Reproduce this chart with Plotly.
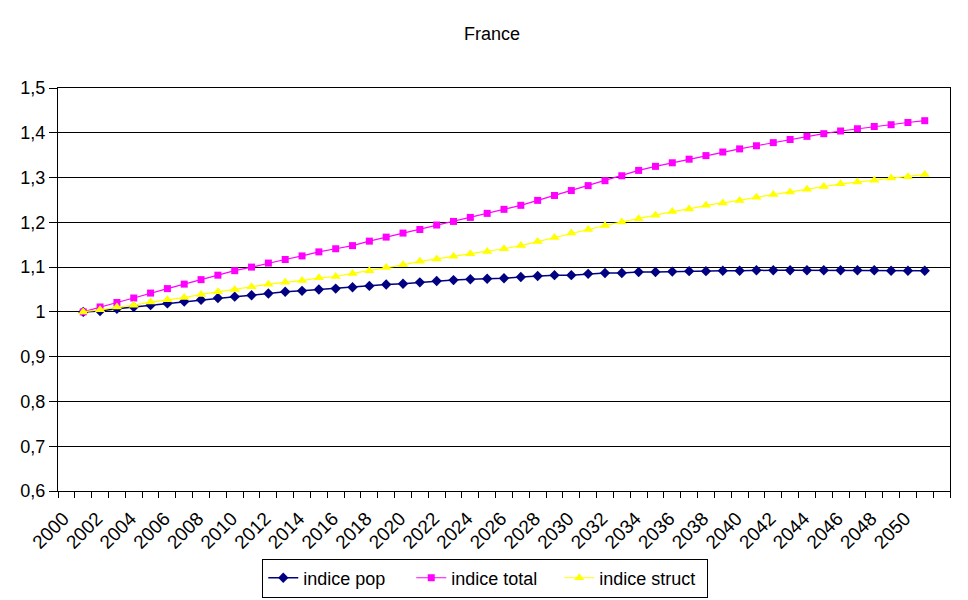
import plotly.graph_objects as go

years = list(range(2001, 2052))
tick_years = list(range(2000, 2051, 2))
tick_labels = [str(y) for y in tick_years]
y_ticks = [0.6, 0.7, 0.8, 0.9, 1.0, 1.1, 1.2, 1.3, 1.4, 1.5]
y_labels = ["0,6", "0,7", "0,8", "0,9", "1", "1,1", "1,2", "1,3", "1,4", "1,5"]

indice_pop = [1.000, 1.002, 1.007, 1.011, 1.015, 1.019, 1.023, 1.027, 1.031, 1.034,
              1.037, 1.041, 1.045, 1.047, 1.050, 1.052, 1.055, 1.058, 1.061, 1.063,
              1.066, 1.069, 1.071, 1.073, 1.074, 1.075, 1.078, 1.080, 1.082, 1.082,
              1.085, 1.087, 1.087, 1.089, 1.089, 1.090, 1.091, 1.091, 1.092, 1.092,
              1.093, 1.093, 1.093, 1.093, 1.093, 1.093, 1.093, 1.093, 1.092, 1.092,
              1.092]
indice_total = [1.000, 1.011, 1.021, 1.031, 1.042, 1.052, 1.062, 1.072, 1.082, 1.092,
                1.100, 1.109, 1.117, 1.125, 1.134, 1.141, 1.148, 1.158, 1.167, 1.176,
                1.184, 1.194, 1.202, 1.211, 1.220, 1.229, 1.238, 1.249, 1.260, 1.271,
                1.282, 1.293, 1.304, 1.316, 1.325, 1.333, 1.341, 1.349, 1.357, 1.364,
                1.371, 1.378, 1.385, 1.392, 1.398, 1.404, 1.409, 1.414, 1.418, 1.423,
                1.427]
indice_struct = [1.000, 1.005, 1.011, 1.015, 1.022, 1.027, 1.032, 1.039, 1.045, 1.050,
                 1.056, 1.062, 1.066, 1.070, 1.076, 1.079, 1.086, 1.092, 1.099, 1.105,
                 1.113, 1.118, 1.124, 1.130, 1.135, 1.141, 1.148, 1.157, 1.166, 1.176,
                 1.184, 1.193, 1.201, 1.208, 1.216, 1.224, 1.230, 1.238, 1.243, 1.249,
                 1.256, 1.262, 1.268, 1.274, 1.280, 1.286, 1.290, 1.294, 1.299, 1.302,
                 1.307]

FONT = "Liberation Sans, Arial, sans-serif"

fig = go.Figure()
fig.add_trace(go.Scatter(x=years, y=indice_pop, name="indice pop", mode="lines+markers",
                         line=dict(color="#000080", width=1.5),
                         marker=dict(symbol="diamond", size=8, color="#000080")))
fig.add_trace(go.Scatter(x=years, y=indice_total, name="indice total", mode="lines+markers",
                         line=dict(color="#FF00FF", width=1.2),
                         marker=dict(symbol="square", size=7, color="#FF00FF")))
fig.add_trace(go.Scatter(x=years, y=indice_struct, name="indice struct", mode="lines+markers",
                         line=dict(color="#FFFF00", width=1.2),
                         marker=dict(symbol="triangle-up", size=9, color="#FFFF00")))

fig.update_layout(
    width=968, height=600,
    margin=dict(l=50, r=26, t=80, b=117, autoexpand=False),
    paper_bgcolor="white", plot_bgcolor="white",
    font=dict(family=FONT, size=18, color="black"),
    title=dict(text="France", x=0.5, xanchor="center", y=0.958, yanchor="middle",
               font=dict(family=FONT, size=18, color="black")),
    showlegend=True,
    legend=dict(orientation="h", x=0.479, xanchor="center", y=-0.216, yanchor="middle",
                bordercolor="black", borderwidth=1, font=dict(family=FONT, size=18),
                itemwidth=30, tracegroupgap=0, entrywidth=103),
    xaxis=dict(range=[1999.5, 2052.5], tickmode="array", tickvals=tick_years,
               ticktext=tick_labels, tickangle=-45, ticks="", showgrid=False,
               showline=True, linecolor="black", linewidth=1, mirror=True,
               zeroline=False, automargin=False, tickfont=dict(family=FONT, size=19),
               ticklabelstandoff=8, ticklabelshift=-3,
               minor=dict(ticks="outside", ticklen=6, tickcolor="black", tick0=1999.5,
                          dtick=1, showgrid=False)),
    yaxis=dict(range=[0.6, 1.5], tickmode="array", tickvals=y_ticks, ticktext=y_labels,
               ticks="outside", ticklen=8, tickcolor="black", showgrid=True,
               gridcolor="black", gridwidth=1, showline=True, linecolor="black",
               linewidth=1, mirror=True, zeroline=False, automargin=False,
               tickfont=dict(family=FONT, size=18)),
)

fig.write_html("out.html")
